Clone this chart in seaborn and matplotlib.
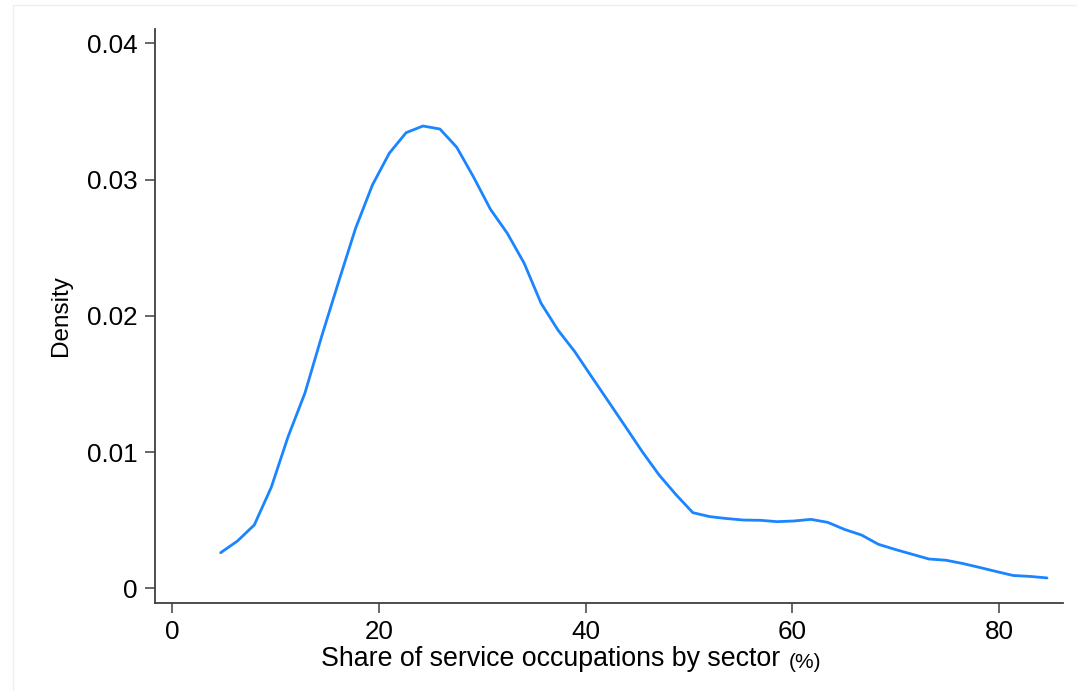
import matplotlib
matplotlib.use("Agg")
import matplotlib.pyplot as plt
from matplotlib.patches import Rectangle
import seaborn as sns

# Kernel density estimate of the service-occupation share (50 evaluation points)
share_pct = [4.68, 6.31, 7.94, 9.58, 11.21, 12.84, 14.47, 16.10, 17.74, 19.37,
             21.00, 22.63, 24.26, 25.90, 27.53, 29.16, 30.79, 32.42, 34.06, 35.69,
             37.32, 38.95, 40.58, 42.22, 43.85, 45.48, 47.11, 48.74, 50.38, 52.01,
             53.64, 55.27, 56.90, 58.54, 60.17, 61.80, 63.43, 65.06, 66.70, 68.33,
             69.96, 71.59, 73.22, 74.86, 76.49, 78.12, 79.75, 81.38, 83.02, 84.65]
density = [0.00261, 0.00347, 0.00465, 0.00741, 0.01113, 0.01433, 0.01852, 0.02250,
           0.02642, 0.02960, 0.03193, 0.03344, 0.03393, 0.03371, 0.03237, 0.03018,
           0.02782, 0.02606, 0.02385, 0.02092, 0.01896, 0.01737, 0.01553, 0.01370,
           0.01187, 0.01003, 0.00832, 0.00688, 0.00555, 0.00526, 0.00512, 0.00501,
           0.00499, 0.00489, 0.00494, 0.00506, 0.00484, 0.00432, 0.00391, 0.00323,
           0.00285, 0.00250, 0.00215, 0.00206, 0.00182, 0.00153, 0.00123, 0.00094,
           0.00087, 0.00076]

x_ticks = [0, 20, 40, 60, 80]
y_ticks = [0, 0.01, 0.02, 0.03, 0.04]
y_tick_labels = ["0", "0.01", "0.02", "0.03", "0.04"]
x_title = "Share of service occupations by sector"
x_unit = "(%)"
y_title = "Density"

sns.set_style("ticks")
plt.rcParams["font.family"] = ["Liberation Sans", "DejaVu Sans"]

axis_color = "#3f3f3f"
line_color = "#1a85ff"

fig = plt.figure(figsize=(10.77, 6.91), dpi=100)
fig.patch.set_facecolor("white")
# faint frame around the graph region
fig.patches.append(Rectangle((12.5 / 1077, -0.1), 1.2, (691 - 4.5) / 691 + 0.1,
                             transform=fig.transFigure, fill=False,
                             edgecolor="#efefef", linewidth=1.0))

ax = fig.add_axes([155 / 1077, 1 - 603 / 691, (1063 - 155) / 1077, (603 - 29) / 691])
ax.set_facecolor("white")

sns.lineplot(x=share_pct, y=density, ax=ax, color=line_color, linewidth=2.0)

ax.set_xlim(-1.67, 86.2)
ax.set_ylim(-0.00108, 0.04105)
ax.set_xticks(x_ticks)
ax.set_xticklabels([str(v) for v in x_ticks])
ax.set_yticks(y_ticks)
ax.set_yticklabels(y_tick_labels)

sns.despine(ax=ax, top=True, right=True)
for side in ("left", "bottom"):
    ax.spines[side].set_color(axis_color)
    ax.spines[side].set_linewidth(1.3)

ax.tick_params(axis="both", direction="out", length=7.5, width=1.1,
               color=axis_color, labelsize=18.7, labelcolor="black")
ax.tick_params(axis="x", pad=5)
ax.tick_params(axis="y", pad=5)

ax.set_xlabel(x_title, fontsize=19.3, color="black")
ax.xaxis.set_label_coords(0.436, -0.0749)
ax.set_ylabel(y_title, fontsize=17.5, color="black")
ax.yaxis.set_label_coords(-0.0917, 0.5)

ax.annotate(x_unit, xy=(1, 0), xycoords=ax.xaxis.label, xytext=(6, 0),
            textcoords="offset points", ha="left", va="bottom",
            fontsize=15, color="black")

fig.savefig("out.png", dpi=100, facecolor="white")
